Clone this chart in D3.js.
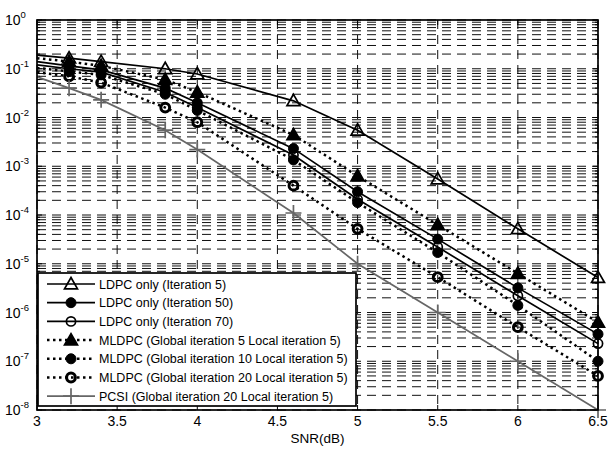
<html>
<head>
  <script src="https://d3js.org/d3.v7.min.js"></script>
  <style>
    body { margin: 0; background: white; }
    text { font-family: "Liberation Sans", Arial, sans-serif; }
  </style>
</head>
<body>
  <svg id="chart" width="610" height="450" style="background: white;"></svg>
  <script>
    // values
    const snr = [3, 3.2, 3.4, 3.8, 4.0, 4.6, 5.0, 5.5, 6.0, 6.5];
    const ldpc5 = [0.19, 0.165, 0.14, 0.1, 0.078, 0.022, 0.0055, 5.5e-4, 5.2e-5, 5.2e-6];
    const ldpc50 = [0.14, 0.115, 0.095, 0.04, 0.02, 0.0023, 3e-4, 3.2e-5, 3.2e-6, 3.6e-7];
    const ldpc70 = [0.12, 0.1, 0.085, 0.033, 0.016, 0.0017, 2.1e-4, 2.2e-5, 2.2e-6, 2.3e-7];
    const mldpc5 = [0.165, 0.14, 0.115, 0.06, 0.033, 0.0044, 6.3e-4, 6.3e-5, 6.3e-6, 6.3e-7];
    const mldpc10 = [0.104, 0.088, 0.075, 0.03, 0.014, 0.00135, 1.8e-4, 1.7e-5, 1.4e-6, 1e-7];
    const mldpc20 = [0.085, 0.07, 0.052, 0.016, 0.008, 4e-4, 5.2e-5, 5.3e-6, 5e-7, 5e-8];
    const pcsi = [0.068, 0.04, 0.023, 0.0055, 0.0022, 1.1e-4, 1e-5, 1e-6, 1e-7, 1e-8];

    const labels = [
      "LDPC only (Iteration 5)",
      "LDPC only (Iteration 50)",
      "LDPC only (Iteration 70)",
      "MLDPC (Global iteration 5 Local iteration 5)",
      "MLDPC (Global iteration 10 Local iteration 5)",
      "MLDPC (Global iteration 20 Local iteration 5)",
      "PCSI (Global iteration 20 Local iteration 5)"
    ];
    const xTicks = [3, 3.5, 4, 4.5, 5, 5.5, 6, 6.5];
    const yExps = [0, -1, -2, -3, -4, -5, -6, -7, -8];

    const svg = d3.select("svg#chart");
    const pLeft = 37, pRight = 598, pTop = 20, pBottom = 410;

    const x = d3.scaleLinear().domain([3, 6.5]).range([pLeft, pRight]);
    const y = d3.scaleLog().domain([1, 1e-8]).range([pTop, pBottom]);

    const series = [
      { data: ldpc5, color: "#000", dash: null, width: 1.7, marker: "triOpen" },
      { data: ldpc50, color: "#000", dash: null, width: 1.7, marker: "dotFill" },
      { data: ldpc70, color: "#000", dash: null, width: 1.7, marker: "dotOpen" },
      { data: mldpc5, color: "#000", dash: "2.5,3.5", width: 2.5, marker: "triFill" },
      { data: mldpc10, color: "#000", dash: "2.5,3.5", width: 2.5, marker: "dotFill" },
      { data: mldpc20, color: "#000", dash: "2.5,3.5", width: 2.5, marker: "ring" },
      { data: pcsi, color: "#666", dash: null, width: 1.7, marker: "plus" }
    ];

    // grid + inside ticks
    const grid = svg.append("g");
    function hGrid(v, len) {
      grid.append("line")
        .attr("x1", pLeft).attr("x2", pRight)
        .attr("y1", y(v)).attr("y2", y(v))
        .style("stroke", "#111").style("stroke-width", 1)
        .style("stroke-dasharray", "9,6");
      grid.append("line").attr("x1", pLeft).attr("x2", pLeft + len)
        .attr("y1", y(v)).attr("y2", y(v)).style("stroke", "#000");
      grid.append("line").attr("x1", pRight).attr("x2", pRight - len)
        .attr("y1", y(v)).attr("y2", y(v)).style("stroke", "#000");
    }
    yExps.forEach(e => {
      for (let m = 1; m <= 9; m++) {
        const v = m * Math.pow(10, e);
        if (v > 1) continue;
        hGrid(v, m === 1 ? 5 : 3);
      }
    });
    xTicks.forEach(t => {
      grid.append("line")
        .attr("x1", x(t)).attr("x2", x(t))
        .attr("y1", pTop).attr("y2", pBottom)
        .style("stroke", "#111").style("stroke-width", 1)
        .style("stroke-dasharray", "9,6");
      grid.append("line").attr("x1", x(t)).attr("x2", x(t))
        .attr("y1", pBottom).attr("y2", pBottom - 5).style("stroke", "#000");
      grid.append("line").attr("x1", x(t)).attr("x2", x(t))
        .attr("y1", pTop).attr("y2", pTop + 5).style("stroke", "#000");
    });

    // markers
    function drawMarker(g, type, cx, cy, color) {
      if (type === "triOpen" || type === "triFill") {
        const s = 6.5;
        g.append("path")
          .attr("d", `M${cx},${cy - s} L${cx + s},${cy + s * 0.75} L${cx - s},${cy + s * 0.75} Z`)
          .attr("fill", type === "triFill" ? color : "none")
          .attr("stroke", color).attr("stroke-width", 1.7);
      } else if (type === "dotFill") {
        g.append("circle").attr("cx", cx).attr("cy", cy).attr("r", 5)
          .attr("fill", color).attr("stroke", color);
      } else if (type === "dotOpen") {
        g.append("circle").attr("cx", cx).attr("cy", cy).attr("r", 4.6)
          .attr("fill", "none").attr("stroke", color).attr("stroke-width", 1.7);
      } else if (type === "ring") {
        g.append("circle").attr("cx", cx).attr("cy", cy).attr("r", 4.4)
          .attr("fill", "none").attr("stroke", color).attr("stroke-width", 3);
      } else if (type === "plus") {
        g.append("path")
          .attr("d", `M${cx - 8},${cy} H${cx + 8} M${cx},${cy - 8} V${cy + 8}`)
          .attr("stroke", color).attr("stroke-width", 1.7);
      }
    }

    const line = d3.line().x(d => x(d[0])).y(d => y(d[1]));
    const plot = svg.append("g");
    series.forEach(s => {
      const pts = snr.map((v, i) => [v, s.data[i]]);
      plot.append("path")
        .attr("d", line(pts))
        .attr("fill", "none")
        .attr("stroke", s.color)
        .attr("stroke-width", s.width)
        .attr("stroke-dasharray", s.dash);
      pts.filter(p => p[0] > 3).forEach(p => drawMarker(plot, s.marker, x(p[0]), y(p[1]), s.color));
    });

    // axes box
    svg.append("rect")
      .attr("x", pLeft).attr("y", pTop)
      .attr("width", pRight - pLeft).attr("height", pBottom - pTop)
      .attr("fill", "none").attr("stroke", "#000").attr("stroke-width", 1.7);

    // tick labels
    xTicks.forEach(t => {
      svg.append("text")
        .attr("x", x(t)).attr("y", 426)
        .attr("text-anchor", "middle")
        .style("font-size", "14px")
        .text(t);
    });
    yExps.forEach(e => {
      const txt = svg.append("text")
        .attr("x", 5).attr("y", y(Math.pow(10, e)) + 5)
        .style("font-size", "14px");
      txt.append("tspan").text("10");
      txt.append("tspan").attr("dy", -7).style("font-size", "9.5px").text(e);
    });
    svg.append("text")
      .attr("x", (pLeft + pRight) / 2).attr("y", 443)
      .attr("text-anchor", "middle")
      .style("font-size", "13.5px")
      .text("SNR(dB)");

    // legend
    const lg = svg.append("g");
    lg.append("rect")
      .attr("x", 38).attr("y", 273).attr("width", 318).attr("height", 133)
      .attr("fill", "white").attr("stroke", "#000").attr("stroke-width", 1.7);
    series.forEach((s, i) => {
      const ly = 284 + i * 18.7;
      lg.append("line")
        .attr("x1", 47).attr("x2", 95).attr("y1", ly).attr("y2", ly)
        .attr("stroke", s.color).attr("stroke-width", s.width)
        .attr("stroke-dasharray", s.dash);
      drawMarker(lg, s.marker, 71, ly, s.color);
      lg.append("text")
        .attr("x", 99).attr("y", ly + 4.5)
        .style("font-size", "12.5px")
        .text(labels[i]);
    });
  </script>
</body>
</html>
